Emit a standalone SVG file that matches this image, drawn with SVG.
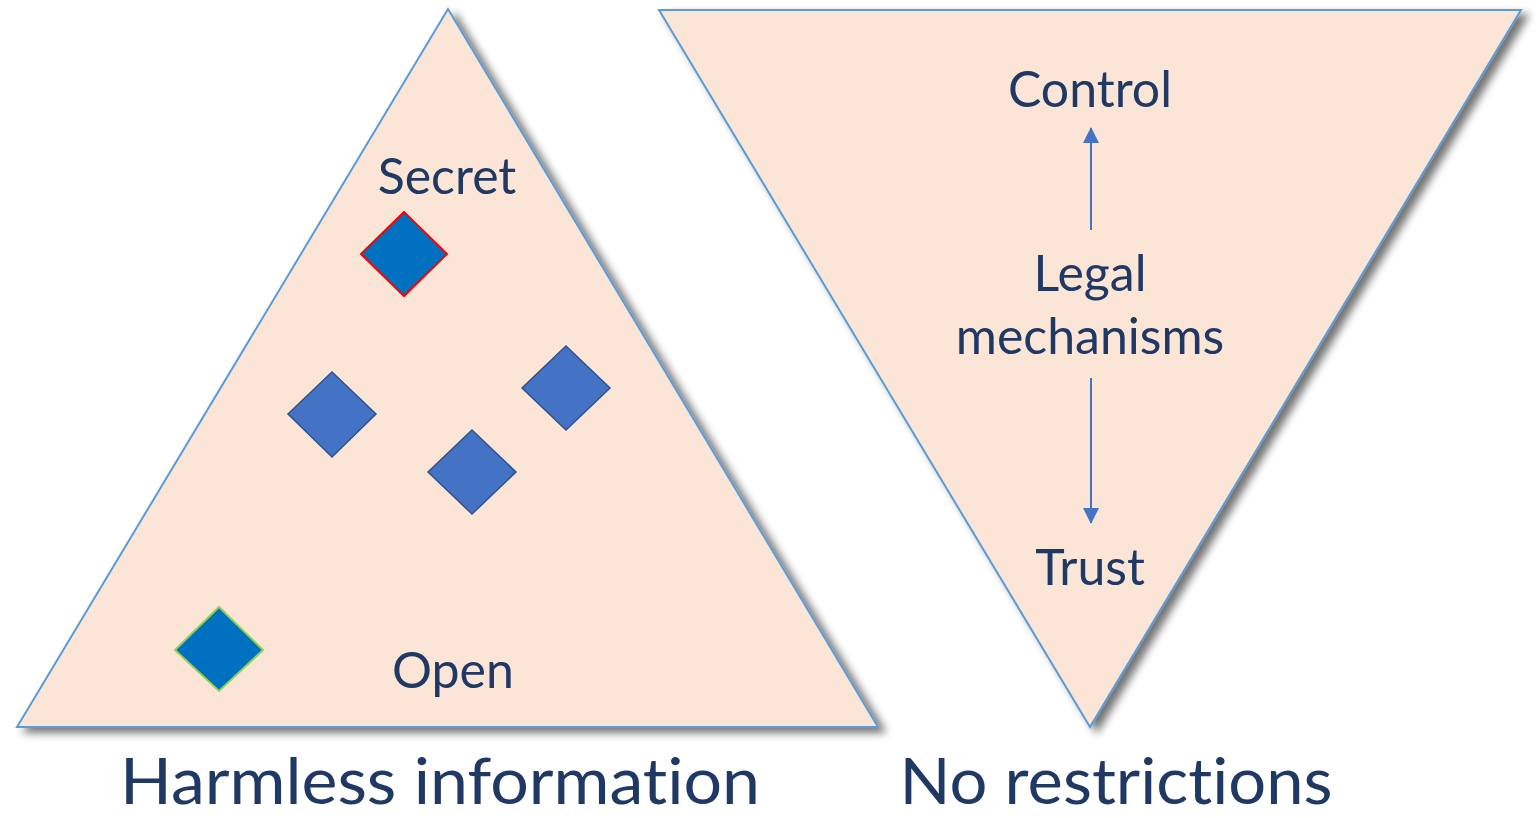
<svg xmlns="http://www.w3.org/2000/svg" width="1539" height="818" viewBox="0 0 1539 818">
<style>
.tri{fill:#FBE5D6;stroke:#5B9BD5;stroke-width:2;filter:url(#sh)}
.lbl{font-family:Lato,"Open Sans",sans-serif;fill:#203864;text-anchor:middle;font-size:50px;font-variant-ligatures:none}
.big{font-family:Lato,"Open Sans",sans-serif;fill:#203864;text-anchor:middle;font-size:63px;font-variant-ligatures:none}
.dia{fill:#4472C4;stroke:#2F528F;stroke-width:1.5}
</style>
<defs>
<filter id="sh" x="-10%" y="-10%" width="130%" height="130%">
<feGaussianBlur in="SourceAlpha" stdDeviation="4"/>
<feOffset dx="7" dy="5" result="b"/>
<feComponentTransfer><feFuncA type="linear" slope="0.55"/></feComponentTransfer>
<feMerge><feMergeNode/><feMergeNode in="SourceGraphic"/></feMerge>
</filter>
<marker id="ah2" viewBox="0 0 16 16" refX="15" refY="8" markerWidth="16" markerHeight="16" markerUnits="userSpaceOnUse" orient="auto">
<path d="M0,0 L16,8 L0,16 z" fill="#4472C4"/>
</marker>
</defs>
<g id="pyramid">
<polygon class="tri" points="448,9 17,727 878,727"/>
</g>
<g id="funnel">
<polygon class="tri" points="659,10 1521,10 1090,727"/>
</g>
<g id="diamond-secret"><polygon points="404,212 447,254 404,296 361,254" fill="#0070C0" stroke="#FF0000" stroke-width="2"/></g>
<g id="diamond-a"><polygon class="dia" points="332,372 376,414 332,457 288,414"/></g>
<g id="diamond-b"><polygon class="dia" points="566,346 610,388 566,430 522,388"/></g>
<g id="diamond-c"><polygon class="dia" points="472,430 516,472 472,514 428,472"/></g>
<g id="diamond-open"><polygon points="219,607 263,650 219,691 175,650" fill="#0070C0" stroke="#92D050" stroke-width="2"/></g>
<g id="connectors">
<line x1="1091" y1="230" x2="1091" y2="128" stroke="#4472C4" stroke-width="2" marker-end="url(#ah2)"/>
<line x1="1091" y1="378" x2="1091" y2="523" stroke="#4472C4" stroke-width="2" marker-end="url(#ah2)"/>
</g>
<g id="label-secret"><text class="lbl" x="447" y="194">Secret</text></g>
<g id="label-open"><text class="lbl" x="453" y="688">Open</text></g>
<g id="label-control"><text class="lbl" x="1090" y="107">Control</text></g>
<g id="label-legal"><text class="lbl" x="1090" y="291">Legal</text><text class="lbl" x="1090" y="354">mechanisms</text></g>
<g id="label-trust"><text class="lbl" x="1090" y="585">Trust</text></g>
<g id="caption-left"><text class="big" x="440" y="804" textLength="640" lengthAdjust="spacingAndGlyphs">Harmless information</text></g>
<g id="caption-right"><text class="big" x="1116" y="804" textLength="433" lengthAdjust="spacingAndGlyphs">No restrictions</text></g>
</svg>
